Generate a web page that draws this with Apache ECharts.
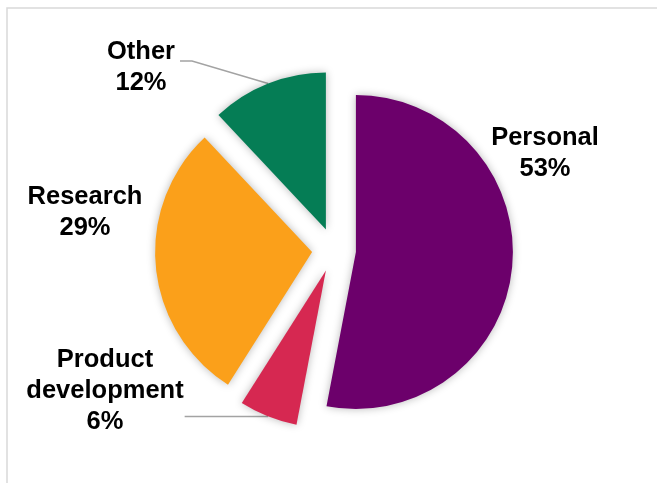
<!DOCTYPE html>
<html>
<head>
<meta charset="utf-8">
<script src="https://cdn.jsdelivr.net/npm/echarts@6/dist/echarts.min.js"></script>
<style>
  html, body { margin: 0; padding: 0; background: #fff; }
  #main { width: 657px; height: 483px; }
</style>
</head>
<body>
<div id="main"></div>
<script>
// categories and shares (percent), clockwise from 12 o'clock
var categories = ['Personal', 'Product development', 'Research', 'Other'];
var shares = [53, 6, 29, 12];
var colors = ['#6C006B', '#D62851', '#FBA01A', '#057D55'];

// label placement (centre of each text block) and leader lines
var labelX = [545, 105, 85, 141];
var labelY = [153, 391, 212, 67];
var showLeader = [false, true, false, true];
var leaderDy = [0, null, 0, -6];   // null = keep the line flat at the slice anchor
var leaderGap = [0, 1, 0, 5];

var PIE_CENTER = [334, 250];
var PIE_R = 157;
var EXPLODE = 22;

var chart = echarts.init(document.getElementById('main'));

var sliceData = [], labelData = [];
for (var i = 0; i < categories.length; i++) {
    sliceData.push({
        name: categories[i],
        value: shares[i],
        selected: true,
        itemStyle: { color: colors[i] }
    });
    labelData.push({
        name: categories[i],
        value: shares[i],
        labelLine: { show: showLeader[i] }
    });
}

var option = {
    animation: false,
    graphic: [{
        type: 'rect',
        shape: { x: 7, y: 8, width: 700, height: 520 },
        style: { fill: 'none', stroke: '#D9D9D9', lineWidth: 1.5 },
        silent: true
    }],
    series: [{
        // exploded slices
        type: 'pie',
        center: PIE_CENTER,
        radius: PIE_R,
        startAngle: 90,
        clockwise: true,
        selectedMode: 'multiple',
        selectedOffset: EXPLODE,
        silent: true,
        itemStyle: {
            shadowBlur: 8,
            shadowColor: 'rgba(0,0,0,0.28)'
        },
        select: { itemStyle: { borderWidth: 0 } },
        emphasis: { disabled: true },
        label: { show: false },
        labelLine: { show: false },
        data: sliceData
    }, {
        // same slices, unexploded but as wide as the exploded rim: carries the labels
        type: 'pie',
        center: PIE_CENTER,
        radius: PIE_R + EXPLODE,
        startAngle: 90,
        clockwise: true,
        silent: true,
        avoidLabelOverlap: false,
        itemStyle: { color: 'rgba(0,0,0,0)' },
        emphasis: { disabled: true },
        label: {
            show: true,
            position: 'outside',
            color: '#000',
            fontFamily: '"Liberation Sans", Arial, sans-serif',
            fontWeight: 'bold',
            fontSize: 25.5,
            lineHeight: 31,
            align: 'center',
            formatter: function (p) {
                return p.name.replace(' ', '\n') + '\n' + p.value + '%';
            }
        },
        labelLine: {
            show: true,
            lineStyle: { color: '#A3A3A3', width: 1.5 }
        },
        labelLayout: function (p) {
            var i = p.dataIndex;
            var res = {
                x: labelX[i],
                y: labelY[i],
                align: 'center',
                verticalAlign: 'middle'
            };
            if (showLeader[i] && p.labelLinePoints) {
                var start = p.labelLinePoints[0];
                var edge = labelX[i] + p.labelRect.width / 2 + leaderGap[i];
                var ly = leaderDy[i] === null ? start[1] : labelY[i] + leaderDy[i];
                res.labelLinePoints = [
                    [start[0], start[1]],
                    [edge + 12, ly],
                    [edge, ly]
                ];
            }
            return res;
        },
        data: labelData
    }]
};
chart.setOption(option);
</script>
</body>
</html>
